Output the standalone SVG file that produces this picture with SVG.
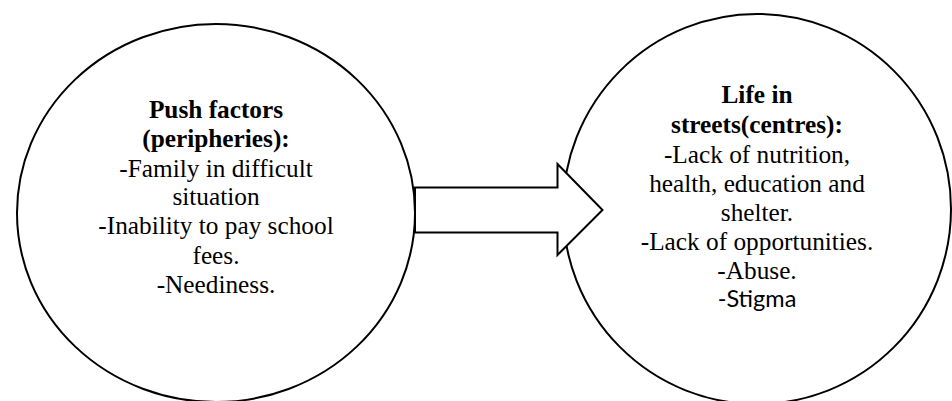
<svg xmlns="http://www.w3.org/2000/svg" width="952" height="401" viewBox="0 0 952 401">
<style>
.shape{fill:#fff;stroke:#000;stroke-width:2}
.t{font-family:"Liberation Serif","Times New Roman",serif;font-size:25.3px;fill:#000;text-anchor:middle}
.b{font-weight:bold}
.s{font-family:Lato,"Liberation Sans",sans-serif;font-size:23.5px}
</style>
<rect width="952" height="401" fill="#fff"/>
<g id="node-push">
<ellipse class="shape" cx="216" cy="213" rx="199" ry="189"/>
<text class="t b" x="216" y="118">Push factors</text>
<text class="t b" x="216" y="147">(peripheries):</text>
<text class="t" x="216" y="177">-Family in difficult</text>
<text class="t" x="216" y="205">situation</text>
<text class="t" x="216" y="234">-Inability to pay school</text>
<text class="t" x="216" y="264">fees.</text>
<text class="t" x="216" y="293">-Neediness.</text>
</g>
<g id="node-life">
<ellipse class="shape" cx="757" cy="209" rx="194" ry="195"/>
<text class="t b" x="757" y="103">Life in</text>
<text class="t b" x="757" y="133">streets(centres):</text>
<text class="t" x="757" y="163">-Lack of nutrition,</text>
<text class="t" x="757" y="192">health, education and</text>
<text class="t" x="757" y="221">shelter.</text>
<text class="t" x="757" y="250">-Lack of opportunities.</text>
<text class="t" x="757" y="279">-Abuse.</text>
<text class="t s" x="757" y="307">-Stigma</text>
</g>
<g id="connectors">
<path class="shape" d="M415,187.5 L557.5,187.5 L557.5,164 L602.5,210 L557.5,255 L557.5,232.5 L415,232.5 Z" stroke-linejoin="miter"/>
</g>
</svg>
